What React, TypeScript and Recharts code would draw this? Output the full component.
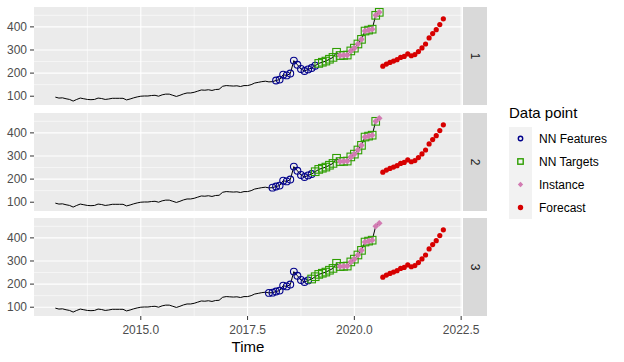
import React from 'react';
import { ComposedChart, Line, Scatter, XAxis, YAxis, CartesianGrid } from 'recharts';

// monthly series, Jan 2013 .. Aug 2020
const START_YEAR = 2013;
const seriesValues = [
    96, 92, 93, 89, 86, 79, 86, 92, 89, 86, 85, 86,
    92, 90, 86, 88, 91, 91, 91, 91, 84, 88, 93, 97,
    100, 101, 101, 103, 104, 100, 106, 109, 109, 104, 99, 104,
    110, 114, 114, 117, 122, 127, 126, 128, 125, 129, 130, 143,
    146, 145, 144, 145, 142, 146, 146, 150, 157, 160, 163, 165,
    162, 163, 168, 172, 193, 190, 198, 254, 236, 218, 209, 216,
    222, 232, 242, 247, 252, 260, 268, 290, 276, 277, 278, 296,
    308, 326, 346, 382, 386, 390, 450, 463
];
const forecastValues = [230, 239, 246, 252, 258, 268, 272, 283, 275, 280, 293, 309, 326, 352, 371, 388, 410, 435];

// first NN feature (index into series) for each panel
const panels = ['1', '2', '3'];
const featureStarts = [62, 61, 60];
const LAGS = 12;
const HORIZON = 18;

const xMajor = [2015, 2017.5, 2020, 2022.5];
const xMinor = [2013.75, 2016.25, 2018.75, 2021.25];
const yMajor = [100, 200, 300, 400];
const yMinor = [150, 250, 350, 450];

const BLUE = '#00008B';
const GREEN = '#2E9E00';
const PINK = '#D27BB2';
const RED = '#D70000';
const FONT = '"Liberation Sans", Arial, sans-serif';

const toTime = (i: number) => START_YEAR + i / 12;
const seriesRows = seriesValues.map((v, i) => ({ t: toTime(i), v }));
const forecastRows = forecastValues.map((v, i) => ({ t: toTime(seriesValues.length + i), v }));
const instanceRows = seriesRows.slice(seriesRows.length - LAGS);

const PANEL_TOPS = [7, 113, 218];
const PANEL_H = 98;
const PLOT_LEFT = 34;
const PLOT_RIGHT = 462;
const RIGHT_PAD = 30;
const AXIS_H = 45;

const CircleShape = (p: any) => <circle cx={p.cx} cy={p.cy} r={3.4} fill="none" stroke={BLUE} strokeWidth={1.1} />;
const SquareShape = (p: any) => (
    <rect x={p.cx - 3.8} y={p.cy - 3.8} width={7.6} height={7.6} fill="none" stroke={GREEN} strokeWidth={1.1} />
);
const DiamondShape = (p: any) => (
    <polygon points={`${p.cx},${p.cy - 3.3} ${p.cx + 3.3},${p.cy} ${p.cx},${p.cy + 3.3} ${p.cx - 3.3},${p.cy}`} fill={PINK} />
);
const DotShape = (p: any) => <circle cx={p.cx} cy={p.cy} r={2.6} fill={RED} />;

const Panel: React.FC<{ idx: number }> = ({ idx }) => {
    const last = idx === panels.length - 1;
    const fs = featureStarts[idx];
    const features = seriesRows.slice(fs, fs + LAGS);
    const targets = seriesRows.slice(fs + LAGS, fs + LAGS + HORIZON);
    return (
        <div style={{ position: 'absolute', left: 0, top: PANEL_TOPS[idx] }}>
            <ComposedChart
                width={PLOT_RIGHT + RIGHT_PAD}
                height={PANEL_H + (last ? AXIS_H : 0)}
                data={seriesRows}
                margin={{ top: 0, right: RIGHT_PAD, bottom: 0, left: 0 }}
            >
                <CartesianGrid
                    fill="#EBEBEB"
                    stroke="#FFFFFF"
                    strokeWidth={0.55}
                    horizontalValues={yMinor}
                    verticalValues={xMinor}
                />
                <CartesianGrid
                    stroke="#FFFFFF"
                    strokeWidth={1.1}
                    horizontalValues={yMajor}
                    verticalValues={xMajor}
                />
                <XAxis
                    dataKey="t"
                    type="number"
                    domain={[2012.5, 2022.52]}
                    ticks={xMajor}
                    hide={!last}
                    height={AXIS_H}
                    axisLine={false}
                    tickSize={4}
                    tickMargin={5}
                    tickLine={{ stroke: '#333333' }}
                    tick={{ fill: '#4D4D4D', fontSize: 12, fontFamily: FONT }}
                    tickFormatter={(v) => Number(v).toFixed(1)}
                    label={{ value: 'Time', position: 'insideBottom', offset: 9, fill: '#000', fontSize: 15, fontFamily: FONT }}
                />
                <YAxis
                    type="number"
                    domain={[62, 486]}
                    ticks={yMajor}
                    width={PLOT_LEFT}
                    axisLine={false}
                    tickSize={4}
                    tickMargin={3}
                    tickLine={{ stroke: '#333333' }}
                    tick={{ fill: '#4D4D4D', fontSize: 12, fontFamily: FONT }}
                />
                <Line dataKey="v" stroke="#000" strokeWidth={1} dot={false} isAnimationActive={false} />
                <Scatter data={features} dataKey="v" shape={CircleShape} isAnimationActive={false} />
                <Scatter data={targets} dataKey="v" shape={SquareShape} isAnimationActive={false} />
                <Scatter data={instanceRows} dataKey="v" shape={DiamondShape} isAnimationActive={false} />
                <Scatter data={forecastRows} dataKey="v" shape={DotShape} isAnimationActive={false} />
            </ComposedChart>
            <div
                style={{
                    position: 'absolute', left: PLOT_RIGHT + 1, top: 0, width: 24, height: PANEL_H,
                    background: '#D9D9D9', display: 'flex', alignItems: 'center', justifyContent: 'center'
                }}
            >
                <span style={{ transform: 'rotate(90deg)', color: '#1A1A1A', fontSize: 12, fontFamily: FONT }}>
                    {panels[idx]}
                </span>
            </div>
        </div>
    );
};

const legendItems = [
    { label: 'NN Features', key: <circle cx={11.5} cy={11.5} r={2.2} fill="none" stroke={BLUE} strokeWidth={1.4} /> },
    { label: 'NN Targets', key: <rect x={8.8} y={8.8} width={5.4} height={5.4} fill="none" stroke={GREEN} strokeWidth={1.4} /> },
    { label: 'Instance', key: <polygon points="11.5,8.8 14.2,11.5 11.5,14.2 8.8,11.5" fill={PINK} /> },
    { label: 'Forecast', key: <circle cx={11.5} cy={11.5} r={2.7} fill={RED} /> }
];

const Legend: React.FC = () => (
    <div style={{ position: 'absolute', left: 509, top: 104, fontFamily: FONT }}>
        <div style={{ fontSize: 15, color: '#000', height: 23, lineHeight: '18px' }}>Data point</div>
        {legendItems.map((it) => (
            <div key={it.label} style={{ display: 'flex', alignItems: 'center', height: 23 }}>
                <svg width={23} height={23} style={{ background: '#F2F2F2', display: 'block' }}>
                    {it.key}
                </svg>
                <span style={{ fontSize: 12, marginLeft: 7, color: '#000' }}>{it.label}</span>
            </div>
        ))}
    </div>
);

export default function App() {
    return (
        <div style={{ position: 'absolute', left: 0, top: 0, width: 624, height: 362, background: '#fff', overflow: 'hidden' }}>
            {panels.map((p, i) => (
                <Panel key={p} idx={i} />
            ))}
            <Legend />
        </div>
    );
}
